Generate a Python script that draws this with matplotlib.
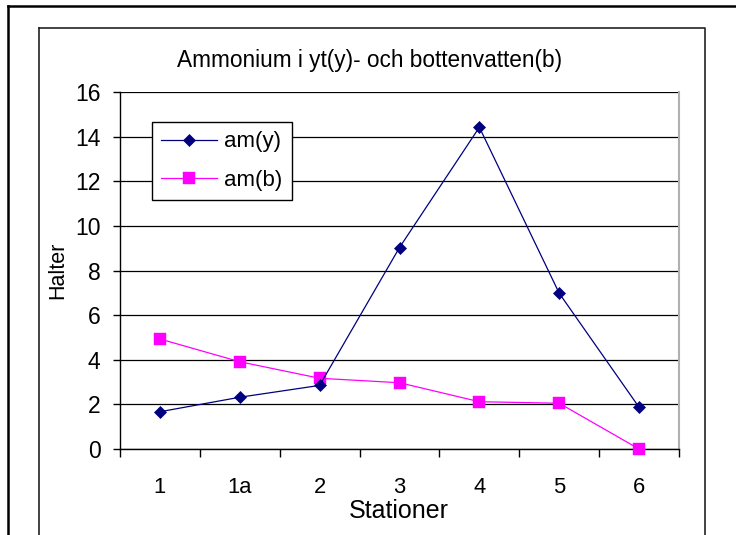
import matplotlib
matplotlib.use("Agg")
import matplotlib.pyplot as plt
from matplotlib.lines import Line2D
import numpy as np

plt.rcParams['font.family'] = ['Liberation Sans', 'DejaVu Sans']

stations = ["1", "1a", "2", "3", "4", "5", "6"]
am_y = [1.67, 2.32, 2.85, 9.03, 14.42, 6.98, 1.87]
am_b = [4.93, 3.91, 3.17, 2.97, 2.12, 2.05, 0.0]
yticks = [0, 2, 4, 6, 8, 10, 12, 14, 16]
title = "Ammonium i yt(y)- och bottenvatten(b)"

W, H = 736, 535
fig = plt.figure(figsize=(W / 100, H / 100), dpi=100)
fig.patch.set_facecolor("white")

def fx(px):
    return px / W

def fy(py):
    return 1 - py / H

# frames
fig.add_artist(Line2D([fx(8), fx(736)], [fy(6), fy(6)], color="black", lw=1.8, transform=fig.transFigure))
fig.add_artist(Line2D([fx(8), fx(8)], [fy(6), fy(535)], color="black", lw=1.8, transform=fig.transFigure))
fig.add_artist(Line2D([fx(39), fx(705), fx(705)], [fy(28), fy(28), fy(535)], color="#222222", lw=1.2, transform=fig.transFigure))
fig.add_artist(Line2D([fx(39), fx(39)], [fy(28), fy(535)], color="#222222", lw=1.2, transform=fig.transFigure))

ax = fig.add_axes([fx(120), fy(449), fx(679) - fx(120), fy(92) - fy(449)])
x = np.arange(len(stations))

ax.set_xlim(-0.5, len(stations) - 0.5)
ax.set_ylim(0, 16)
ax.set_yticks(yticks)
ax.set_yticklabels([str(v) for v in yticks], fontsize=16.5)
ax.yaxis.grid(True, color="black", lw=0.9)
ax.set_axisbelow(True)

ax.set_xticks(np.arange(-0.5, len(stations), 1.0))
ax.set_xticklabels([])
ax.set_xticks(x, minor=True)
ax.set_xticklabels(stations, minor=True, fontsize=15.8)
ax.tick_params(axis="x", which="major", direction="out", length=6, width=1, color="black")
ax.tick_params(axis="x", which="minor", length=0, pad=20)
ax.tick_params(axis="y", direction="out", length=5, width=1, pad=9)

ax.spines["top"].set_visible(False)
ax.spines["right"].set_color("#b0b0b0")
ax.spines["right"].set_linewidth(1.5)
ax.spines["left"].set_linewidth(1.0)
ax.spines["bottom"].set_linewidth(1.0)

ax.plot(x, am_y, color="#000080", lw=0.9, marker="D", ms=6.2, mfc="#000080", mec="#000080", mew=0.5, label="am(y)", clip_on=False, zorder=4)
ax.plot(x, am_b, color="#FF00FF", lw=0.9, marker="s", ms=8.2, mfc="#FF00FF", mec="#FF00FF", mew=0.3, label="am(b)", clip_on=False, zorder=3)

leg = fig.legend(loc="upper left", bbox_to_anchor=(fx(152), fy(122)), bbox_transform=fig.transFigure,
                 fontsize=16, frameon=True, fancybox=False, shadow=False, borderaxespad=0,
                 handlelength=2.5, handletextpad=0.33, borderpad=0.42, labelspacing=0.8)
leg.get_frame().set_edgecolor("black")
leg.get_frame().set_linewidth(1.0)
leg.get_frame().set_alpha(1)

fig.text(fx(370), fy(60), title, ha="center", va="center", fontsize=16.3)
fig.text(fx(399), fy(511), "Stationer", ha="center", va="center", fontsize=18)
fig.text(fx(58), fy(270), "Halter", ha="center", va="center", rotation=90, fontsize=15.5)

fig.savefig("out.png", dpi=100)
